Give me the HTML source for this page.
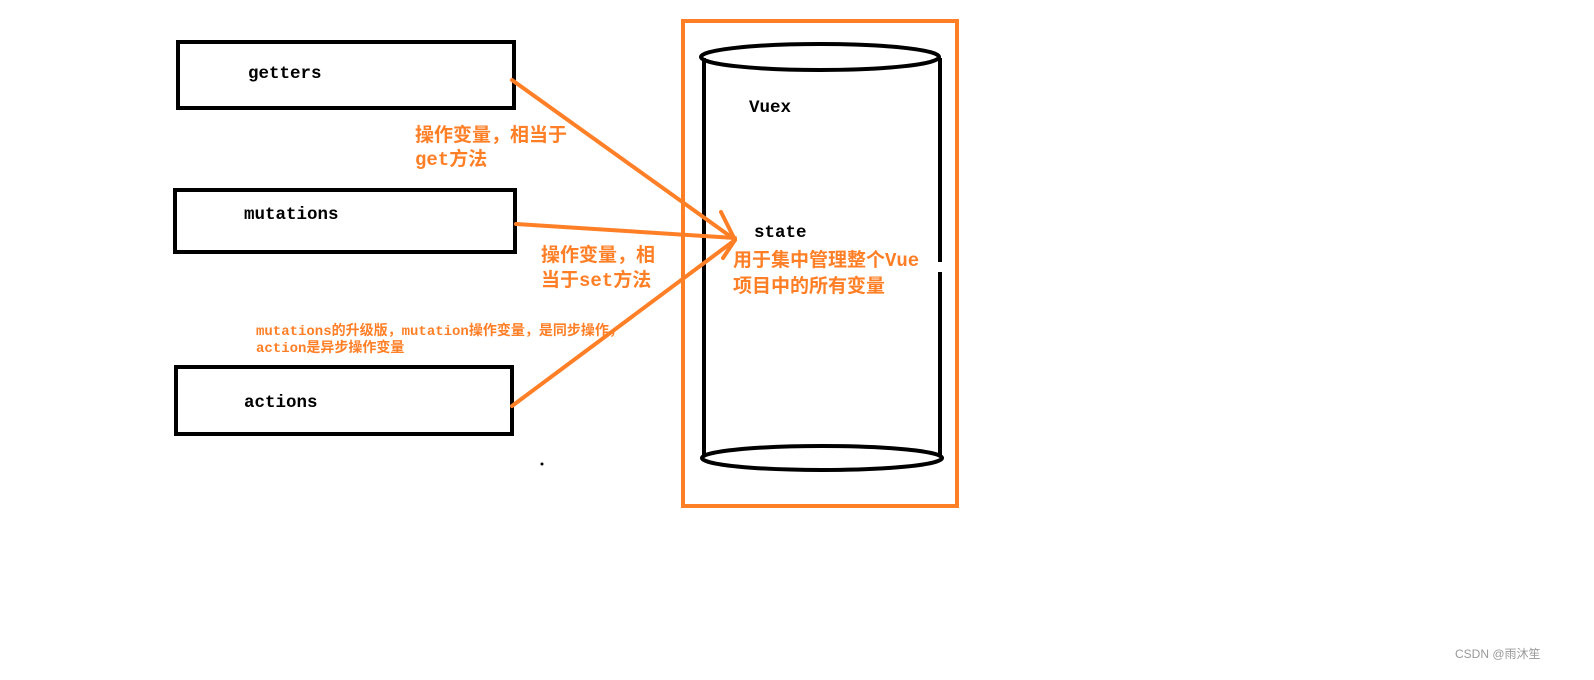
<!DOCTYPE html>
<html><head><meta charset="utf-8"><style>
html,body{margin:0;padding:0;background:#fff;width:1594px;height:680px;overflow:hidden}
svg{display:block}
text{font-family:"Liberation Mono","Noto Sans CJK SC",monospace;font-weight:bold}
.b{fill:#000;font-size:17.5px}
.o{fill:#ff7f27;font-size:19px}
</style></head><body>
<svg width="1594" height="680" xmlns="http://www.w3.org/2000/svg">
<g fill="none" stroke="#000" stroke-width="4">
<rect x="178" y="42" width="336" height="66"/>
<rect x="175" y="190" width="340" height="62"/>
<rect x="176" y="367" width="336" height="67"/>
<ellipse cx="820" cy="57" rx="119" ry="13"/>
<line x1="704" y1="58" x2="704" y2="456"/>
<line x1="940" y1="58" x2="940" y2="262"/>
<line x1="940" y1="272" x2="940" y2="456"/>
<ellipse cx="822" cy="458" rx="120" ry="12"/>
</g>
<rect x="683" y="21" width="274" height="485" fill="none" stroke="#ff7f27" stroke-width="4"/>
<g stroke="#ff7f27" stroke-width="4" stroke-linecap="round" fill="none">
<line x1="512" y1="80" x2="734" y2="239"/>
<line x1="516" y1="224" x2="735" y2="238"/>
<line x1="512" y1="406" x2="735" y2="240"/>
<line x1="735" y1="240" x2="721" y2="212"/>
<line x1="735" y1="240" x2="723" y2="258"/>
</g>
<circle cx="542" cy="464" r="1.5" fill="#000"/>
<text class="b" x="248" y="78">getters</text>
<text class="b" x="244" y="219">mutations</text>
<text class="b" x="244" y="407">actions</text>
<text class="b" x="749" y="112">Vuex</text>
<text class="b" x="754" y="237">state</text>
<text class="o" x="415" y="141">操作变量，相当于</text>
<text class="o" x="415" y="165">get方法</text>
<text class="o" x="541" y="261">操作变量，相</text>
<text class="o" x="541" y="286">当于set方法</text>
<text class="o" x="733" y="266">用于集中管理整个Vue</text>
<text class="o" x="733" y="292">项目中的所有变量</text>
<text class="o" style="font-size:14px" x="256" y="335">mutations的升级版，mutation操作变量，是同步操作，</text>
<text class="o" style="font-size:14px" x="256" y="352">action是异步操作变量</text>
<text x="1455" y="658" style="font-family:'Liberation Sans','Noto Sans CJK SC',sans-serif;font-weight:normal;font-size:12px;fill:#999">CSDN @雨沐笙</text>
</svg>
</body></html>
